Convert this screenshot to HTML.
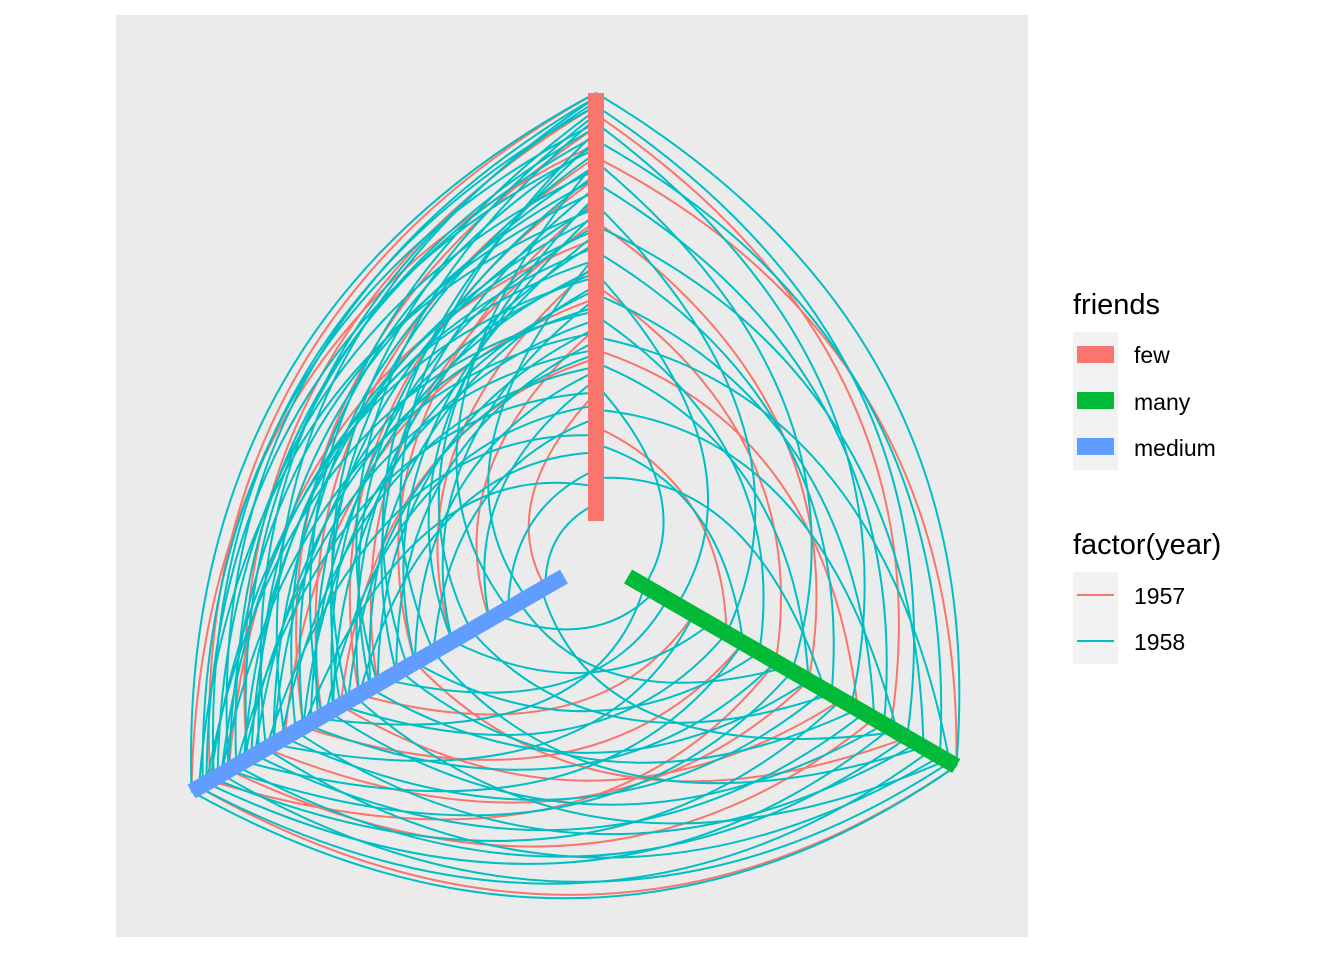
<!DOCTYPE html>
<html><head><meta charset="utf-8"><style>
body{margin:0;background:#fff;}
svg{display:block;font-family:"Liberation Sans",sans-serif;}
</style></head><body>
<svg id="chart" width="1344" height="960">
<rect x="116" y="15" width="912" height="922" fill="#EBEBEB"/>
<g id="edges"></g>
<g id="axes"></g>
<g>
<text x="1073" y="314" font-size="29">friends</text>
<rect x="1073" y="332" width="45" height="138" fill="#F2F2F2"/>
<rect x="1077" y="346" width="37" height="17" fill="#F8766D"/>
<rect x="1077" y="392" width="37" height="17" fill="#00BA38"/>
<rect x="1077" y="438" width="37" height="17" fill="#619CFF"/>
<text x="1134" y="363" font-size="23">few</text>
<text x="1134" y="410" font-size="23">many</text>
<text x="1134" y="456" font-size="23">medium</text>
</g>
<g>
<text x="1073" y="554" font-size="29">factor(year)</text>
<rect x="1073" y="572" width="45" height="92" fill="#F2F2F2"/>
<line x1="1077" y1="595" x2="1114" y2="595" stroke="#F8766D" stroke-width="2"/>
<line x1="1077" y1="641" x2="1114" y2="641" stroke="#00BFC4" stroke-width="2"/>
<text x="1134" y="604" font-size="23">1957</text>
<text x="1134" y="650" font-size="23">1958</text>
</g>
</svg>
<script>
// edges: "fromAxis fromPos toAxis toPos year"  axes: f=few, m=medium, y=many
const edgeList = [
"f 1.00 m 0.95 57","f 0.97 m 0.85 57","f 0.92 m 0.70 57","f 0.88 m 1.00 57","f 0.80 m 0.55 57","f 0.75 m 0.40 57","f 0.66 m 0.90 57","f 0.60 m 0.30 57","f 0.52 m 0.75 57","f 0.45 m 0.20 57","f 0.38 m 0.60 57","f 0.30 m 0.05 57","f 0.85 m 0.65 57","f 0.70 m 0.50 57",
"f 0.95 y 0.80 57","f 0.85 y 1.00 57","f 0.70 y 0.55 57","f 0.55 y 0.45 57","f 0.40 y 0.70 57","f 0.22 y 0.30 57",
"m 0.98 y 1.00 57","m 0.90 y 0.75 57","m 0.80 y 0.55 57","m 0.70 y 0.35 57","m 0.55 y 0.20 57","m 0.40 y 0.85 57","m 0.95 y 0.45 57","m 0.60 y 0.65 57",
"f 1.00 m 1.00 58","f 0.99 m 0.90 58","f 0.98 m 0.80 58","f 0.96 m 0.65 58","f 0.94 m 0.50 58","f 0.93 m 0.97 58","f 0.91 m 0.35 58","f 0.90 m 0.88 58","f 0.88 m 0.72 58","f 0.86 m 0.60 58","f 0.84 m 0.15 58","f 0.82 m 0.93 58","f 0.80 m 0.82 58","f 0.78 m 0.45 58","f 0.76 m 0.25 58","f 0.73 m 0.98 58","f 0.71 m 0.78 58","f 0.69 m 0.62 58","f 0.67 m 0.40 58","f 0.64 m 0.86 58","f 0.62 m 0.10 58","f 0.59 m 0.68 58","f 0.57 m 0.95 58","f 0.55 m 0.52 58","f 0.52 m 0.30 58","f 0.50 m 0.83 58","f 0.47 m 0.70 58","f 0.44 m 0.92 58","f 0.42 m 0.45 58","f 0.39 m 0.58 58","f 0.36 m 0.76 58","f 0.33 m 0.20 58","f 0.30 m 0.88 58","f 0.27 m 0.64 58","f 0.24 m 0.35 58","f 0.20 m 0.80 58","f 0.16 m 0.55 58","f 0.12 m 0.15 58","f 0.08 m 0.70 58","f 0.04 m 0.05 58",
"f 0.99 m 0.75 58","f 0.97 m 0.94 58","f 0.95 m 0.58 58","f 0.92 m 0.85 58","f 0.89 m 0.42 58","f 0.87 m 0.96 58","f 0.83 m 0.70 58","f 0.81 m 0.52 58","f 0.77 m 0.90 58","f 0.74 m 0.66 58","f 0.72 m 0.30 58","f 0.68 m 0.84 58","f 0.65 m 0.55 58","f 0.61 m 0.92 58","f 0.58 m 0.78 58","f 0.54 m 0.62 58","f 0.49 m 0.96 58","f 0.45 m 0.50 58","f 0.40 m 0.86 58","f 0.35 m 0.40 58",
"f 1.00 y 1.00 58","f 0.97 y 0.85 58","f 0.93 y 0.68 58","f 0.89 y 0.95 58","f 0.84 y 0.50 58","f 0.79 y 0.78 58","f 0.74 y 0.30 58","f 0.69 y 0.90 58","f 0.63 y 0.62 58","f 0.58 y 0.15 58","f 0.53 y 0.75 58","f 0.48 y 0.40 58","f 0.43 y 0.98 58","f 0.37 y 0.55 58","f 0.32 y 0.05 58","f 0.26 y 0.82 58","f 0.18 y 0.35 58","f 0.10 y 0.60 58",
"m 1.00 y 1.00 58","m 0.98 y 0.92 58","m 0.96 y 0.80 58","m 0.94 y 0.65 58","m 0.92 y 0.98 58","m 0.90 y 0.50 58","m 0.88 y 0.85 58","m 0.86 y 0.35 58","m 0.83 y 0.72 58","m 0.80 y 0.95 58","m 0.78 y 0.20 58","m 0.75 y 0.60 58","m 0.72 y 0.88 58","m 0.69 y 0.45 58","m 0.66 y 0.05 58","m 0.63 y 0.78 58","m 0.60 y 0.30 58","m 0.56 y 0.97 58","m 0.52 y 0.55 58","m 0.48 y 0.12 58","m 0.44 y 0.70 58","m 0.40 y 0.40 58","m 0.35 y 0.90 58","m 0.30 y 0.25 58","m 0.25 y 0.62 58","m 0.18 y 0.08 58","m 0.12 y 0.48 58","m 0.06 y 0.82 58"
];
const axisNames = ["f","m","y"];
const axisLabels = ["few","medium","many"];
const axisColors = ["#F8766D","#619CFF","#00BA38"];
const axisAngles = [-90,150,30];
const axisOuter = [465,467,416];
const cx=596, cy=558, rIn=37, ctrlScale=1.04;
const NS="http://www.w3.org/2000/svg";
function rad(a){return a*Math.PI/180;}
function radius(ax,p){return rIn+p*(axisOuter[ax]-rIn);}
function pt(ang,r){return [cx+r*Math.cos(rad(ang)), cy+r*Math.sin(rad(ang))];}
const eg=document.getElementById('edges');
[57,58].forEach(function(yr){
  edgeList.forEach(function(s){
    const t=s.split(" ");
    if(+t[4]!==yr) return;
    const a=axisNames.indexOf(t[0]), b=axisNames.indexOf(t[2]);
    const ra=radius(a,+t[1]), rb=radius(b,+t[3]);
    const A=axisAngles[a], B=axisAngles[b];
    let d=B-A; while(d>180)d-=360; while(d<-180)d+=360;
    const p0=pt(A,ra), c=pt(A+d*0.5,(ra+rb)/2*ctrlScale), p2=pt(B,rb);
    const path=document.createElementNS(NS,'path');
    path.setAttribute('d','M'+p0+' Q'+c+' '+p2);
    path.setAttribute('fill','none');
    path.setAttribute('stroke',yr===57?'#F8766D':'#00BFC4');
    path.setAttribute('stroke-width','2');
    
    
    eg.appendChild(path);
  });
});
const ag=document.getElementById('axes');
axisNames.forEach(function(n,i){
  const p0=pt(axisAngles[i],rIn), p1=pt(axisAngles[i],axisOuter[i]);
  const l=document.createElementNS(NS,'line');
  l.setAttribute('x1',p0[0]);l.setAttribute('y1',p0[1]);l.setAttribute('x2',p1[0]);l.setAttribute('y2',p1[1]);
  l.setAttribute('stroke',axisColors[i]);l.setAttribute('stroke-width','16');
  
  
  ag.appendChild(l);
});
</script>
</body></html>
